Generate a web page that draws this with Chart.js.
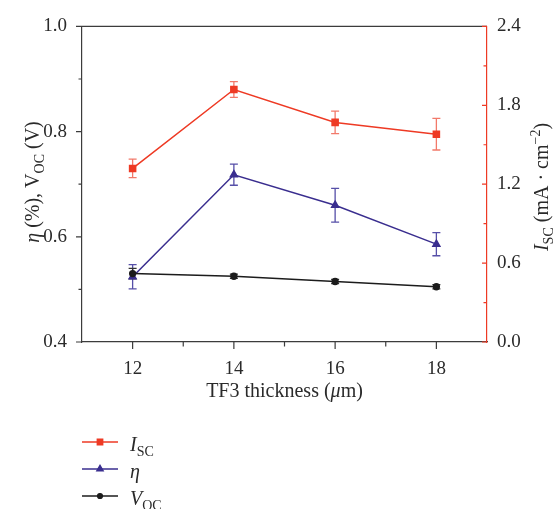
<!DOCTYPE html>
<html>
<head>
<meta charset="utf-8">
<script src="https://cdn.jsdelivr.net/npm/chart.js@4.4.1/dist/chart.umd.min.js"></script>
<style>
  html, body { margin: 0; padding: 0; background: #fff; }
</style>
</head>
<body>
<canvas id="tf3Chart" width="554" height="509"></canvas>
<script>
// TF3 layer thickness (um)
const thickness = [12, 14, 16, 18];

// short-circuit current density, mA/cm2 (right axis)
const iscValues = [1.32, 1.92, 1.67, 1.58];
const iscErrors = [0.07, 0.06, 0.085, 0.12];

// efficiency, % (left axis)
const etaValues = [0.524, 0.718, 0.660, 0.586];
const etaErrors = [0.023, 0.020, 0.032, 0.022];

// open-circuit voltage, V (left axis)
const vocValues = [0.530, 0.525, 0.515, 0.505];
const vocErrors = [0.010, 0.004, 0.004, 0.004];

const xTicks = [12, 14, 16, 18];
const leftTicks = [0.4, 0.6, 0.8, 1.0];
const rightTicks = [0, 0.6, 1.2, 1.8, 2.4];

const RED = '#ee3a24';
const BLUE = '#3a2e8f';
const BLACK = '#1c1c1c';
const AXIS = '#3c3c3c';
const serif = "'Liberation Serif', 'DejaVu Serif', serif";

function font(size, italic) {
  return (italic ? 'italic ' : '') + size + 'px ' + serif;
}

// text made of pieces, some italic, some sub/superscript
function richWidth(ctx, parts, size) {
  let w = 0;
  parts.forEach(p => {
    const s = (p.sub || p.sup) ? size * 0.7 : size;
    ctx.font = font(s, p.i);
    w += ctx.measureText(p.t).width;
  });
  return w;
}

function drawRich(ctx, parts, x, y, size, align) {
  let cx = x;
  if (align === 'center') cx = x - richWidth(ctx, parts, size) / 2;
  ctx.textBaseline = 'alphabetic';
  ctx.textAlign = 'left';
  parts.forEach(p => {
    const s = (p.sub || p.sup) ? size * 0.7 : size;
    let dy = 0;
    if (p.sub) dy = size * 0.25;
    if (p.sup) dy = -size * 0.4;
    ctx.font = font(s, p.i);
    ctx.fillText(p.t, cx, y + dy);
    cx += ctx.measureText(p.t).width;
  });
}

function toPoints(values) {
  return thickness.map((t, i) => ({ x: t, y: values[i] }));
}

const errorBars = {
  id: 'errorBars',
  beforeDatasetsDraw(chart) {
    const ctx = chart.ctx;
    chart.data.datasets.forEach((ds, i) => {
      const meta = chart.getDatasetMeta(i);
      const scale = chart.scales[ds.yAxisID];
      ctx.save();
      ctx.strokeStyle = ds.errorColor;
      ctx.lineWidth = 1.3;
      meta.data.forEach((pt, j) => {
        const v = ds.data[j].y;
        const e = ds.errors[j];
        const top = scale.getPixelForValue(v + e);
        const bot = scale.getPixelForValue(v - e);
        ctx.beginPath();
        ctx.moveTo(pt.x, top);
        ctx.lineTo(pt.x, bot);
        ctx.moveTo(pt.x - 4, top);
        ctx.lineTo(pt.x + 4, top);
        ctx.moveTo(pt.x - 4, bot);
        ctx.lineTo(pt.x + 4, bot);
        ctx.stroke();
      });
      ctx.restore();
    });
  }
};

const frame = {
  id: 'frame',
  afterDraw(chart) {
    const ctx = chart.ctx;
    const a = chart.chartArea;
    const sx = chart.scales.x, sy = chart.scales.y, sr = chart.scales.y1;
    ctx.save();
    ctx.lineWidth = 1.2;

    // top edge of the box
    ctx.strokeStyle = AXIS;
    ctx.beginPath();
    ctx.moveTo(a.left, a.top);
    ctx.lineTo(a.right, a.top);
    ctx.stroke();

    // left ticks, outward
    ctx.beginPath();
    leftTicks.forEach(v => {
      const y = sy.getPixelForValue(v);
      ctx.moveTo(a.left - 6, y); ctx.lineTo(a.left, y);
    });
    [0.5, 0.7, 0.9].forEach(v => {
      const y = sy.getPixelForValue(v);
      ctx.moveTo(a.left - 3.5, y); ctx.lineTo(a.left, y);
    });
    // bottom ticks, outward
    xTicks.forEach(v => {
      const x = sx.getPixelForValue(v);
      ctx.moveTo(x, a.bottom); ctx.lineTo(x, a.bottom + 7);
    });
    [13, 15, 17].forEach(v => {
      const x = sx.getPixelForValue(v);
      ctx.moveTo(x, a.bottom); ctx.lineTo(x, a.bottom + 4.5);
    });
    ctx.stroke();

    // right ticks, inward, red
    ctx.strokeStyle = RED;
    ctx.beginPath();
    rightTicks.forEach(v => {
      const y = sr.getPixelForValue(v);
      ctx.moveTo(a.right - 5, y); ctx.lineTo(a.right, y);
    });
    [0.3, 0.9, 1.5, 2.1].forEach(v => {
      const y = sr.getPixelForValue(v);
      ctx.moveTo(a.right - 3.5, y); ctx.lineTo(a.right, y);
    });
    ctx.stroke();

    // axis titles
    ctx.fillStyle = '#2a2a2a';
    drawRich(ctx, [{ t: 'TF3 thickness (' }, { t: 'μ', i: true }, { t: 'm)' }],
      (a.left + a.right) / 2, 397, 20, 'center');

    ctx.save();
    ctx.translate(39, 182);
    ctx.rotate(-Math.PI / 2);
    drawRich(ctx, [{ t: 'η', i: true }, { t: ' (%), V' }, { t: 'OC', sub: true }, { t: ' (V)' }],
      0, 0, 20, 'center');
    ctx.restore();

    ctx.save();
    ctx.translate(548, 187);
    ctx.rotate(-Math.PI / 2);
    drawRich(ctx, [{ t: 'I', i: true }, { t: 'SC', sub: true }, { t: ' (mA · cm' }, { t: '−2', sup: true }, { t: ')' }],
      0, 0, 20, 'center');
    ctx.restore();

    // legend under the plot
    const rows = [
      { ds: 0, y: 442, label: [{ t: 'I', i: true }, { t: 'SC', sub: true }], r: 3.8 },
      { ds: 1, y: 469, label: [{ t: 'η', i: true }], r: 3.6 },
      { ds: 2, y: 496, label: [{ t: 'V', i: true }, { t: 'OC', sub: true }], r: 2.4 }
    ];
    rows.forEach(row => {
      const ds = chart.data.datasets[row.ds];
      ctx.strokeStyle = ds.borderColor;
      ctx.lineWidth = 1.4;
      ctx.beginPath();
      ctx.moveTo(82, row.y); ctx.lineTo(118, row.y);
      ctx.stroke();
      ctx.fillStyle = ds.borderColor;
      Chart.helpers.drawPoint(ctx, { pointStyle: ds.pointStyle, radius: row.r, rotation: 0, borderWidth: 1 }, 100, row.y);
      ctx.fillStyle = '#2a2a2a';
      drawRich(ctx, row.label, 130, row.y + 9, 20, 'left');
    });
    ctx.restore();
  }
};

const tickFont = { family: serif, size: 19 };
const noGrid = { display: false, drawTicks: false };

new Chart(document.getElementById('tf3Chart'), {
  type: 'line',
  data: {
    datasets: [
      {
        label: 'Isc',
        data: toPoints(iscValues),
        errors: iscErrors,
        errorColor: '#f2796a',
        yAxisID: 'y1',
        borderColor: RED,
        backgroundColor: RED,
        pointStyle: 'rect',
        pointRadius: 4.3,
        borderWidth: 1.5,
        order: 2
      },
      {
        label: 'eta',
        data: toPoints(etaValues),
        errors: etaErrors,
        errorColor: '#564fa8',
        yAxisID: 'y',
        borderColor: BLUE,
        backgroundColor: BLUE,
        pointStyle: 'triangle',
        pointRadius: 4,
        borderWidth: 1.5,
        order: 1
      },
      {
        label: 'Voc',
        data: toPoints(vocValues),
        errors: vocErrors,
        errorColor: '#333333',
        yAxisID: 'y',
        borderColor: BLACK,
        backgroundColor: BLACK,
        pointStyle: 'circle',
        pointRadius: 2.9,
        borderWidth: 1.5,
        order: 0
      }
    ]
  },
  options: {
    responsive: false,
    animation: false,
    layout: { padding: { top: 24, left: 0, right: 0, bottom: 0 } },
    plugins: {
      legend: { display: false },
      title: { display: false },
      tooltip: { enabled: false }
    },
    scales: {
      x: {
        type: 'linear',
        min: 11,
        max: 19,
        afterBuildTicks: s => { s.ticks = xTicks.map(v => ({ value: v })); },
        afterFit: s => { s.height = 167; },
        grid: noGrid,
        border: { color: AXIS, width: 1.2 },
        ticks: { font: tickFont, color: '#2a2a2a', padding: 16, maxRotation: 0 }
      },
      y: {
        position: 'left',
        min: 0.4,
        max: 1.0,
        afterBuildTicks: s => { s.ticks = leftTicks.map(v => ({ value: v })); },
        afterFit: s => { s.width = 82; },
        grid: noGrid,
        border: { color: AXIS, width: 1.2 },
        ticks: { font: tickFont, color: '#2a2a2a', padding: 15, callback: v => v.toFixed(1) }
      },
      y1: {
        position: 'right',
        min: 0,
        max: 2.4,
        afterBuildTicks: s => { s.ticks = rightTicks.map(v => ({ value: v })); },
        afterFit: s => { s.width = 67; },
        grid: noGrid,
        border: { color: RED, width: 1.2 },
        ticks: { font: tickFont, color: '#2a2a2a', padding: 10, callback: v => v.toFixed(1) }
      }
    }
  },
  plugins: [errorBars, frame]
});
</script>
</body>
</html>
